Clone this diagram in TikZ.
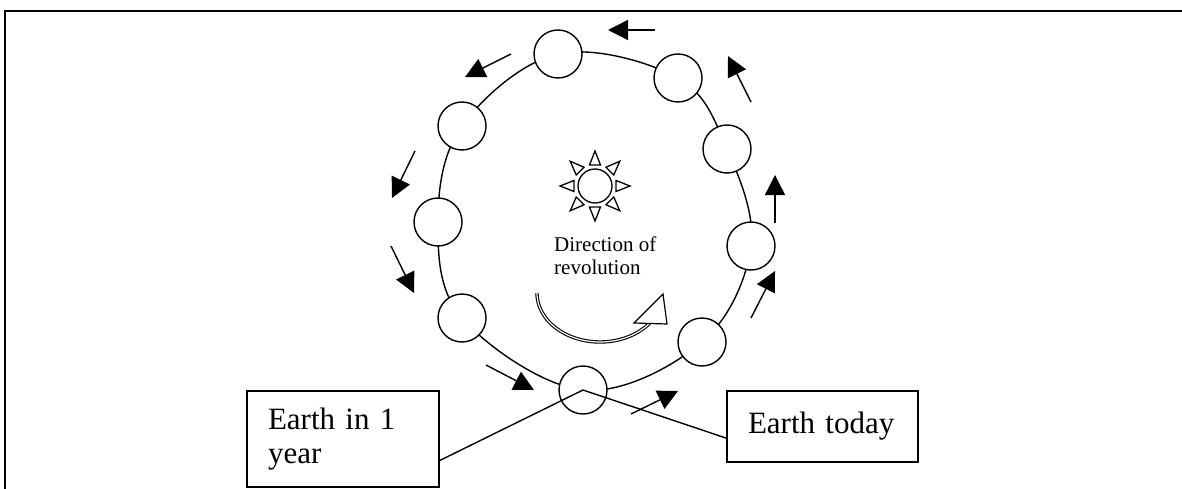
\documentclass[tikz,border=0pt]{standalone}
\usepackage{fontspec}
\setmainfont{Liberation Serif}
\usetikzlibrary{arrows.meta,calc}
\begin{document}
\begin{tikzpicture}[x=1pt,y=-1pt,
  earth/.style={circle, draw, fill=white, line width=1.4pt, minimum size=48pt, inner sep=0pt},
  orbitline/.style={line width=1.4pt},
  movearrow/.style={line width=1.4pt, -{Triangle[length=20pt,width=20pt]}},
  labelbox/.style={draw, line width=1.6pt, fill=white, align=left, inner xsep=21pt, inner ysep=0pt,
    font=\fontsize{31}{34}\selectfont},
  sunray/.style={line width=1.3pt, line join=miter},
  revarrow/.style={double, double distance=1.2pt, line width=1.1pt},
  callout/.style={line width=1.4pt}
]
\useasboundingbox (0,0) rectangle (1182,489);
% frame
\draw[line width=2pt] (5,489) -- (5,11) -- (1182,11);

% earth positions
\coordinate (p1) at (583,390);
\coordinate (p2) at (702,342);
\coordinate (p3) at (751,246);
\coordinate (p4) at (727,149);
\coordinate (p5) at (678,78);
\coordinate (p6) at (558,54);
\coordinate (p7) at (462,126);
\coordinate (p8) at (438,222);
\coordinate (p9) at (462,318);

% orbit
\draw[orbitline] plot[smooth cycle, tension=0.6] coordinates {(p1) (p2) (p3) (p4) (p5) (p6) (p7) (p8) (p9)};

\foreach \i in {1,...,9} \node[earth] (e\i) at (p\i) {};

% sun
\node[circle, draw, line width=1.3pt, minimum size=34pt, inner sep=0pt] (sun) at (595,186) {};
\foreach \a in {0,45,...,315}
  \draw[sunray] ($(sun.center)+(\a:35)$) -- ($(sun.center)+(\a:21)+(\a+90:5.5)$) -- ($(sun.center)+(\a:21)+(\a-90:5.5)$) -- cycle;

% direction text
\node[anchor=base west, inner sep=0pt, align=left, font=\fontsize{21}{22.5}\selectfont] (dir) at (554,274) {Direction of\\revolution};

% curved arrow
\draw[revarrow] plot[domain=180:322, samples=60] ({600+63*cos(\x)}, {293-49*sin(\x)});
\draw[line width=1.2pt, fill=white, line join=miter] (634,323) -- (667,324) -- (663,294) -- cycle;

% motion arrows
\draw[movearrow] (655,30) -- (608,30);
\draw[movearrow] (511,54) -- (465,77);
\draw[movearrow] (751,102) -- (728,56);
\draw[movearrow] (415,151) -- (392,198);
\draw[movearrow] (391,246) -- (414,293);
\draw[movearrow] (486,365) -- (534,390);
\draw[movearrow] (631,414) -- (678,391);
\draw[movearrow] (751,318) -- (775,271);
\draw[movearrow] (775,223) -- (775,175);

% label boxes
\node[labelbox, minimum width=192pt, minimum height=96pt, text width=150pt] (b1) at (343,439) {Earth in 1\\year};
\node[labelbox, minimum width=191pt, minimum height=71pt, text width=149pt] (b2) at (822.5,426.5) {Earth today};

% callouts
\draw[callout] ($(b1.south east)!0.28!(b1.north east)$) -- (e1.center) -- ($(b2.south west)!0.34!(b2.north west)$);
\end{tikzpicture}
\end{document}
